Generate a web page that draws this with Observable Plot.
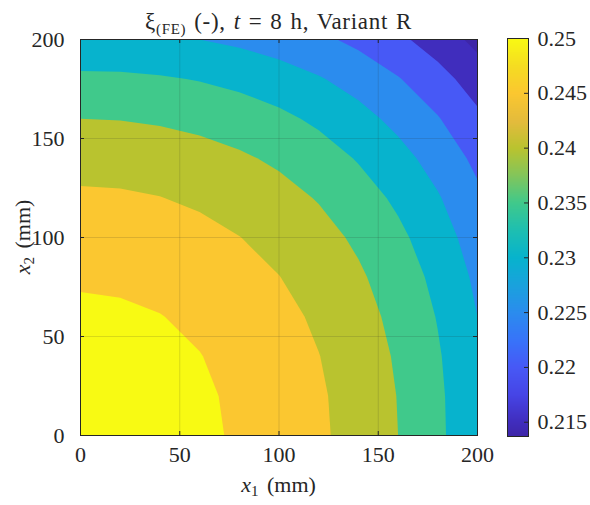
<!DOCTYPE html>
<html><head><meta charset="utf-8">
<script src="https://cdn.jsdelivr.net/npm/d3@7"></script>
<script src="https://cdn.jsdelivr.net/npm/@observablehq/plot@0.6"></script>
<style>
html,body{margin:0;padding:0;background:#fff;}
#chart{position:relative;width:590px;height:505px;overflow:hidden;background:#fff;}
#chart svg{position:absolute;left:0;top:0;}
</style></head><body><div id="chart"></div>
<script>
// ---- data ----
const x1Ticks = [0, 50, 100, 150, 200];
const x2Ticks = [0, 50, 100, 150, 200];
const gridLines = [50, 100, 150];
const nodeCoords = [0, 20, 40, 60, 80, 100, 120, 140, 160, 180, 200]; // mm, both directions
// xi(FE) at nodes; row k is x2 = nodeCoords[k], column i is x1 = nodeCoords[i]
const xiRows = [
  [.25210,.25194,.25147,.25072,.24956,.24796,.24581,.24314,.24000,.23605,.23099],
  [.25194,.25179,.25131,.25056,.24939,.24778,.24563,.24298,.23986,.23592,.23089],
  [.25147,.25131,.25084,.25010,.24891,.24726,.24510,.24251,.23944,.23549,.23057],
  [.25072,.25056,.25010,.24930,.24805,.24637,.24425,.24174,.23872,.23475,.23000],
  [.24956,.24939,.24891,.24805,.24679,.24508,.24308,.24066,.23763,.23371,.22904],
  [.24796,.24778,.24726,.24637,.24508,.24350,.24161,.23921,.23609,.23223,.22774],
  [.24581,.24563,.24510,.24425,.24308,.24161,.23970,.23723,.23409,.23041,.22600],
  [.24314,.24298,.24251,.24174,.24066,.23921,.23723,.23463,.23168,.22805,.22385],
  [.24000,.23986,.23944,.23872,.23763,.23609,.23409,.23168,.22866,.22530,.22104],
  [.23605,.23592,.23549,.23475,.23371,.23223,.23041,.22805,.22530,.22184,.21764],
  [.23099,.23089,.23057,.23000,.22904,.22774,.22600,.22385,.22104,.21764,.21365]
];
const levels = [0.21, 0.215, 0.22, 0.225, 0.23, 0.235, 0.24, 0.245, 0.25];
const cbTicks = [0.215, 0.22, 0.225, 0.23, 0.235, 0.24, 0.245, 0.25];
const cLimits = [0.2137, 0.25];
const parulaStops  = [0, 0.036, 0.105, 0.174, 0.24, 0.311, 0.38, 0.449, 0.52, 0.587, 0.655, 0.724, 0.79, 0.862, 0.93, 1];
const parulaColors = ["#3e26a8","#402dbd","#4645e6","#4759f6","#3873f9","#2b8cee","#1aa2dd","#07b3cd","#1fbfb0","#40c98b","#82c55b","#b9c32f","#e3bb3c","#fbc730","#f5dc22","#f8fa13"];

// ---- helpers ----
const parula = d3.scaleLinear().domain(parulaStops).range(parulaColors).interpolate(d3.interpolateRgb).clamp(true);
const colorOpts = {type: "linear", domain: cLimits, interpolate: t => parula(t), clamp: true};
const ink = "#262626";
const font = "'Liberation Serif', 'DejaVu Serif', serif";
const n = nodeCoords.length;
const step = nodeCoords[1] - nodeCoords[0];
const ext0 = nodeCoords[0] - step / 2, ext1 = nodeCoords[n - 1] + step / 2;
const fmtCb = d => String(+d.toFixed(3));

const main = Plot.plot({
  width: 590, height: 505,
  marginLeft: 80, marginRight: 113, marginTop: 39, marginBottom: 70,
  style: {fontFamily: font, fontSize: "22px", color: ink, background: "transparent", overflow: "visible"},
  x: {domain: [x1Ticks[0], x1Ticks[x1Ticks.length - 1]], label: null},
  y: {domain: [x2Ticks[0], x2Ticks[x2Ticks.length - 1]], label: null},
  color: colorOpts,
  marks: [
    Plot.contour(xiRows.flat(), {
      width: n, height: n, x1: ext0, x2: ext1, y1: ext0, y2: ext1,
      fill: Plot.identity, thresholds: levels, clip: true, stroke: "none"
    }),
    Plot.gridX(gridLines, {stroke: ink, strokeOpacity: 0.15, strokeWidth: 1}),
    Plot.gridY(gridLines, {stroke: ink, strokeOpacity: 0.15, strokeWidth: 1}),
    Plot.frame({stroke: ink, strokeWidth: 1}),
    Plot.ruleX(x1Ticks, {x: d => d, y1: x2Ticks[0], y2: x2Ticks[0], insetTop: -4, stroke: ink}),
    Plot.ruleX(x1Ticks, {x: d => d, y1: x2Ticks[4], y2: x2Ticks[4], insetBottom: -4, stroke: ink}),
    Plot.ruleY(x2Ticks, {y: d => d, x1: x1Ticks[0], x2: x1Ticks[0], insetRight: -4, stroke: ink}),
    Plot.ruleY(x2Ticks, {y: d => d, x1: x1Ticks[4], x2: x1Ticks[4], insetLeft: -4, stroke: ink}),
    Plot.axisX(x1Ticks, {anchor: "bottom", tickSize: 0, tickPadding: 11, label: null, fontSize: 22}),
    Plot.axisY(x2Ticks, {anchor: "left", tickSize: 0, tickPadding: 16, label: null, fontSize: 22})
  ]
});

const cb = Plot.plot({
  width: 590, height: 505,
  marginLeft: 507, marginRight: 62, marginTop: 38, marginBottom: 69,
  style: {fontFamily: font, fontSize: "22px", color: ink, background: "transparent", overflow: "visible", pointerEvents: "none"},
  x: {domain: [0, 1], axis: null},
  y: {domain: cLimits, label: null},
  color: colorOpts,
  marks: [
    Plot.raster({x1: 0, x2: 1, y1: cLimits[0], y2: cLimits[1], fill: (x, y) => y}),
    Plot.frame({stroke: ink, strokeWidth: 1}),
    Plot.ruleY(cbTicks, {y: d => d, x1: 1, x2: 1, insetLeft: -4, stroke: ink}),
    Plot.axisY(cbTicks, {anchor: "right", tickSize: 0, tickPadding: 9, label: null, tickFormat: fmtCb, fontSize: 22})
  ]
});

const chart = document.getElementById("chart");
chart.appendChild(main);
chart.appendChild(cb);

// ---- text overlay: title and axis labels ----
const ov = d3.select(chart).append("svg")
  .attr("width", 590).attr("height", 505)
  .style("pointer-events", "none")
  .attr("font-family", font).attr("font-size", 22).attr("fill", ink);

const title = ov.append("text").attr("x", 278.5).attr("y", 29).attr("text-anchor", "middle")
  .attr("font-size", 23).attr("letter-spacing", 0.7).attr("word-spacing", 1.5);
title.append("tspan").text("ξ");
title.append("tspan").attr("font-size", 15).attr("dy", 5).text("(FE)");
title.append("tspan").attr("dy", -5).text(" (-), ");
title.append("tspan").attr("font-style", "italic").text("t");
title.append("tspan").text(" = 8 h, Variant R");

const xl = ov.append("text").attr("x", 278.5).attr("y", 492).attr("text-anchor", "middle").attr("word-spacing", 3);
xl.append("tspan").attr("font-style", "italic").text("x");
xl.append("tspan").attr("font-size", 15).attr("dy", 4).text("1");
xl.append("tspan").attr("dy", -4).text(" (mm)");

const yl = ov.append("text").attr("transform", "translate(30,237) rotate(-90)").attr("text-anchor", "middle").attr("word-spacing", 3);
yl.append("tspan").attr("font-style", "italic").text("x");
yl.append("tspan").attr("font-size", 15).attr("dy", 4).text("2");
yl.append("tspan").attr("dy", -4).text(" (mm)");
</script>
</body></html>
